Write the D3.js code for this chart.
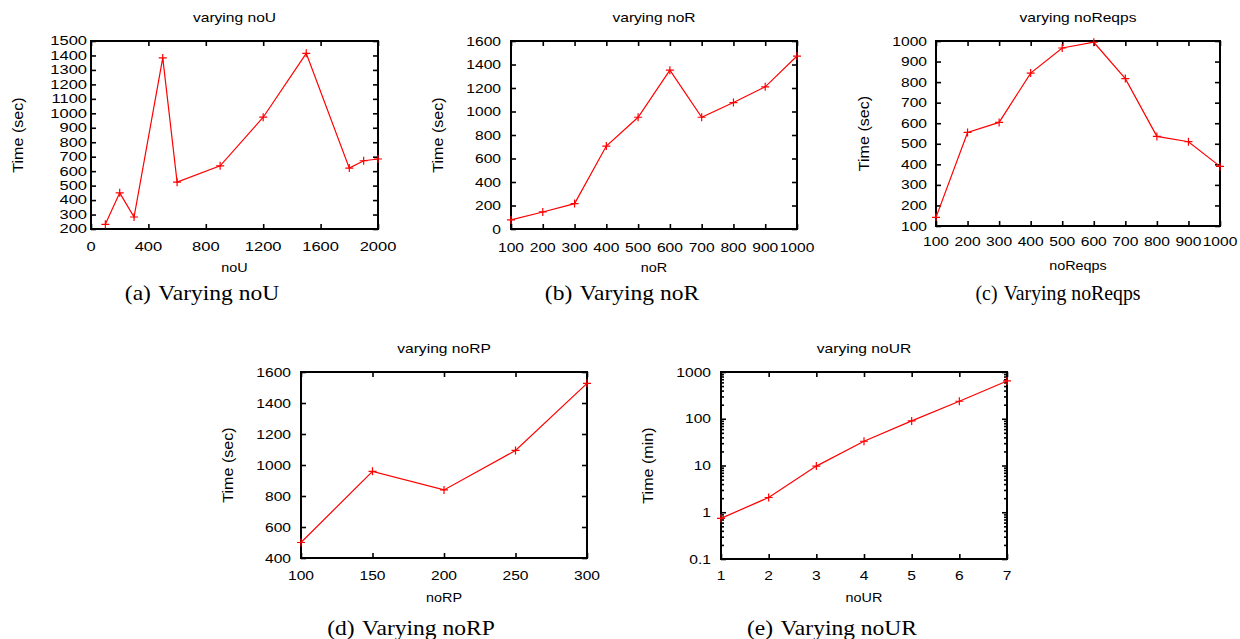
<!DOCTYPE html>
<html>
<head>
<meta charset="utf-8">
<script src="https://cdn.jsdelivr.net/npm/d3@7"></script>
<style>
  body { margin: 0; background: #fff; }
  svg { display: block; }
</style>
</head>
<body>
<svg id="chart" width="1240" height="639"></svg>
<script>
// Data

const noU = [100, 200, 300, 500, 600, 900, 1200, 1500, 1800, 1900, 2000];
const timeNoU = [232, 450, 283, 1383, 524, 637, 973, 1415, 621, 672, 684];
const noUxTicks = [0, 400, 800, 1200, 1600, 2000];
const noUyTicks = [200, 300, 400, 500, 600, 700, 800, 900, 1000, 1100, 1200, 1300, 1400, 1500];

const noR = [100, 200, 300, 400, 500, 600, 700, 800, 900, 1000];
const timeNoR = [77, 145, 216, 706, 951, 1352, 951, 1076, 1210, 1472];
const noRxTicks = [100, 200, 300, 400, 500, 600, 700, 800, 900, 1000];
const noRyTicks = [0, 200, 400, 600, 800, 1000, 1200, 1400, 1600];

const noReqps = [100, 200, 300, 400, 500, 600, 700, 800, 900, 1000];
const timeNoReqps = [142, 555, 604, 844, 966, 994, 817, 536, 510, 390];
const noReqpsxTicks = [100, 200, 300, 400, 500, 600, 700, 800, 900, 1000];
const noReqpsyTicks = [100, 200, 300, 400, 500, 600, 700, 800, 900, 1000];

const noRP = [100, 150, 200, 250, 300];
const timeNoRP = [500, 959, 839, 1094, 1527];
const noRPxTicks = [100, 150, 200, 250, 300];
const noRPyTicks = [400, 600, 800, 1000, 1200, 1400, 1600];

const noUR = [1, 2, 3, 4, 5, 6, 7];
const timeNoUR = [0.74, 2.07, 9.7, 33, 90, 237, 643];
const noURxTicks = [1, 2, 3, 4, 5, 6, 7];
const noURyTicks = [0.1, 1, 10, 100, 1000];

// Panel layout

const panels = [
  { x: noU, y: timeNoU, xTicks: noUxTicks, yTicks: noUyTicks, title: 'varying noU', xLabel: 'noU', yLabel: 'Time (sec)', caption: '(a)\u200A Varying noU',
    box: { l: 91, r: 378, t: 41, b: 229 }, gap: 4, tsx: 1.27, tickY: 247, xLabY: 268, capX: 202, capY: 293, capSx: 1.07, titleY: 18, yLabX: 18 },
  { x: noR, y: timeNoR, xTicks: noRxTicks, yTicks: noRyTicks, title: 'varying noR', xLabel: 'noR', yLabel: 'Time (sec)', caption: '(b)\u200A Varying noR',
    box: { l: 511, r: 797, t: 41, b: 229 }, gap: 10, tsx: 1.2, tickY: 247, xLabY: 268, capX: 622, capY: 293, capSx: 1.07, titleY: 18, yLabX: 438 },
  { x: noReqps, y: timeNoReqps, xTicks: noReqpsxTicks, yTicks: noReqpsyTicks, title: 'varying noReqps', xLabel: 'noReqps', yLabel: 'Time (sec)', caption: '(c)\u200A Varying noReqps',
    box: { l: 936, r: 1220, t: 41, b: 226 }, gap: 9, tsx: 1.2, tickY: 241, xLabY: 266, capX: 1058, capY: 293, capSx: 0.9, titleY: 18, yLabX: 864 },
  { x: noRP, y: timeNoRP, xTicks: noRPxTicks, yTicks: noRPyTicks, title: 'varying noRP', xLabel: 'noRP', yLabel: 'Time (sec)', caption: '(d)\u200A Varying noRP',
    box: { l: 301, r: 587, t: 372, b: 558 }, gap: 10, tsx: 1.2, tickY: 575, xLabY: 598, capX: 411, capY: 628, capSx: 1.07, titleY: 349, yLabX: 228 },
  { x: noUR, y: timeNoUR, xTicks: noURxTicks, yTicks: noURyTicks, title: 'varying noUR', xLabel: 'noUR', yLabel: 'Time (min)', caption: '(e)\u200A Varying noUR',
    box: { l: 721, r: 1007, t: 372, b: 559 }, gap: 10, tsx: 1.2, tickY: 575, xLabY: 598, capX: 832, capY: 628, capSx: 1.07, titleY: 349, yLabX: 648, log: true },
];

const sans = '"Liberation Sans", Arial, sans-serif';
const serif = '"Liberation Serif", "Times New Roman", serif';
const red = '#ff0000';

const svg = d3.select('#chart');

// text with a stretch along its reading direction
const addText = (g, x, y, str, size, opts = {}) => g.append('text')
  .attr('transform', `translate(${x},${y})${opts.rotate ? ' rotate(-90)' : ''} scale(${opts.sx || 1},1)`)
  .attr('text-anchor', opts.anchor || 'middle')
  .attr('dominant-baseline', 'central')
  .style('font-family', opts.family || sans)
  .style('font-size', `${size}px`)
  .style('fill', '#000')
  .text(str);

panels.forEach((p) => {
  const { l, r, t, b } = p.box;
  const g = svg.append('g');

  const x = d3.scaleLinear()
    .domain(d3.extent(p.xTicks))
    .range([l, r]);

  const y = (p.log ? d3.scaleLog() : d3.scaleLinear())
    .domain(d3.extent(p.yTicks))
    .range([b, t]);

  // Minor ticks for log axis
  const yMinor = [];
  if (p.log) {
    p.yTicks.slice(0, -1).forEach((v) => {
      for (let k = 2; k <= 9; k++) yMinor.push(v * k);
    });
  }

  // Axes (inward ticks, mirrored)
  const tickStyle = (sel) => {
    sel.select('.domain').remove();
    sel.selectAll('line').attr('stroke', '#000').attr('stroke-width', 1.6);
  };

  g.append('g').attr('transform', `translate(0,${b})`)
    .call(d3.axisBottom(x).tickValues(p.xTicks).tickSize(-5).tickFormat(''))
    .call(tickStyle);
  g.append('g').attr('transform', `translate(0,${t})`)
    .call(d3.axisTop(x).tickValues(p.xTicks).tickSize(-5).tickFormat(''))
    .call(tickStyle);
  g.append('g').attr('transform', `translate(${l},0)`)
    .call(d3.axisLeft(y).tickValues(p.yTicks).tickSize(-5).tickFormat(''))
    .call(tickStyle);
  g.append('g').attr('transform', `translate(${r},0)`)
    .call(d3.axisRight(y).tickValues(p.yTicks).tickSize(-5).tickFormat(''))
    .call(tickStyle);

  if (p.log) {
    g.append('g').attr('transform', `translate(${l},0)`)
      .call(d3.axisLeft(y).tickValues(yMinor).tickSize(-3).tickFormat(''))
      .call(tickStyle);
    g.append('g').attr('transform', `translate(${r},0)`)
      .call(d3.axisRight(y).tickValues(yMinor).tickSize(-3).tickFormat(''))
      .call(tickStyle);
  }

  // Tick labels
  p.xTicks.forEach((v) => addText(g, x(v), p.tickY, String(v), 13, { sx: p.tsx }));
  p.yTicks.forEach((v) => addText(g, l - p.gap, y(v), String(v), 13, { anchor: 'end', sx: p.tsx }));

  // Frame
  g.append('rect')
    .attr('x', l)
    .attr('y', t)
    .attr('width', r - l)
    .attr('height', b - t)
    .attr('fill', 'none')
    .attr('stroke', '#000')
    .attr('stroke-width', 2);

  // Titles
  addText(g, (l + r) / 2, p.titleY, p.title, 12, { sx: 1.3 });
  addText(g, (l + r) / 2, p.xLabY, p.xLabel, 12.5, { sx: 1.15 });
  addText(g, p.yLabX, (t + b) / 2, p.yLabel, 14, { rotate: true, sx: 1.15 });
  addText(g, p.capX, p.capY, p.caption, 22, { family: serif, sx: p.capSx });

  // Line
  const pts = p.x.map((v, i) => [v, p.y[i]]);
  const line = d3.line()
    .x((d) => x(d[0]))
    .y((d) => y(d[1]));

  g.append('path')
    .attr('d', line(pts))
    .attr('fill', 'none')
    .attr('stroke', red)
    .attr('stroke-width', 1.2);

  // Markers
  const m = 4;
  g.selectAll('.pt')
    .data(pts)
    .enter()
    .append('path')
    .attr('class', 'pt')
    .attr('d', (d) => {
      const cx = x(d[0]);
      const cy = y(d[1]);
      return `M${cx - m},${cy}H${cx + m}M${cx},${cy - m}V${cy + m}`;
    })
    .attr('stroke', red)
    .attr('stroke-width', 1.2);
});
</script>
</body>
</html>
